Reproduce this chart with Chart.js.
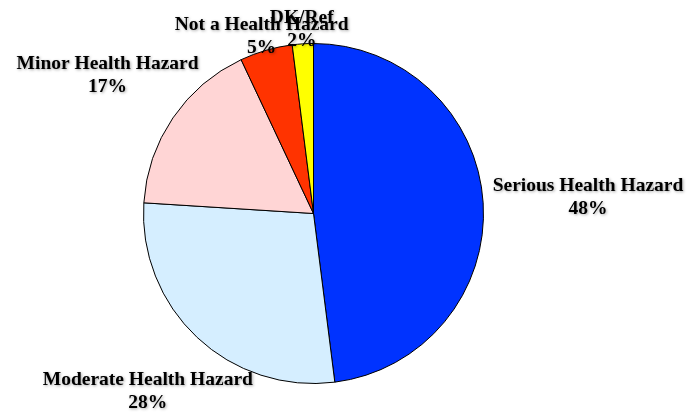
<!DOCTYPE html>
<html>
<head>
<meta charset="utf-8">
<script src="https://cdn.jsdelivr.net/npm/chart.js@4/dist/chart.umd.min.js"></script>
<style>
  html, body { margin: 0; padding: 0; background: #ffffff; }
  #wrap { width: 692px; height: 415px; position: relative; }
</style>
</head>
<body>
<div id="wrap"><canvas id="c"></canvas></div>
<script>
// ---- data ----
const categories = ["Serious Health Hazard", "Moderate Health Hazard", "Minor Health Hazard", "Not a Health Hazard", "DK/Ref"];
const values = [48, 28, 17, 5, 2];

// ---- style ----
const sliceColors = ["#0033FF", "#D5EEFF", "#FFD5D5", "#FF3300", "#FFFF00"];
const labelGap = [105, 72, 79, 16, 16]; // px beyond the pie edge, along each slice's mid-angle

const labelPlugin = {
  id: "sliceLabels",
  afterDatasetsDraw(chart) {
    const ctx = chart.ctx;
    const meta = chart.getDatasetMeta(0);
    ctx.save();
    ctx.font = "bold 19.5px 'Liberation Serif', 'Times New Roman', serif";
    ctx.fillStyle = "#000000";
    ctx.textAlign = "center";
    ctx.textBaseline = "alphabetic";
    ctx.shadowColor = "rgba(0,0,0,0.35)";
    ctx.shadowBlur = 3;
    ctx.shadowOffsetX = 1;
    ctx.shadowOffsetY = 1;
    meta.data.forEach((arc, i) => {
      const p = arc.getProps(["x", "y", "startAngle", "endAngle", "outerRadius"], true);
      const mid = (p.startAngle + p.endAngle) / 2;
      const d = p.outerRadius + labelGap[i];
      const cx = p.x + Math.cos(mid) * d;
      const cy = p.y + Math.sin(mid) * d;
      ctx.fillText(categories[i], cx, cy - 5);
      ctx.fillText(values[i] + "%", cx, cy + 18);
    });
    ctx.restore();
  }
};

new Chart(document.getElementById("c"), {
  type: "pie",
  data: {
    labels: categories,
    datasets: [{
      data: values,
      backgroundColor: sliceColors,
      borderColor: "#000000",
      borderWidth: 1
    }]
  },
  options: {
    responsive: true,
    maintainAspectRatio: false,
    animation: false,
    layout: { padding: { left: 143, right: 208, top: 43, bottom: 31 } },
    plugins: {
      legend: { display: false },
      tooltip: { enabled: false }
    }
  },
  plugins: [labelPlugin]
});
</script>
</body>
</html>
